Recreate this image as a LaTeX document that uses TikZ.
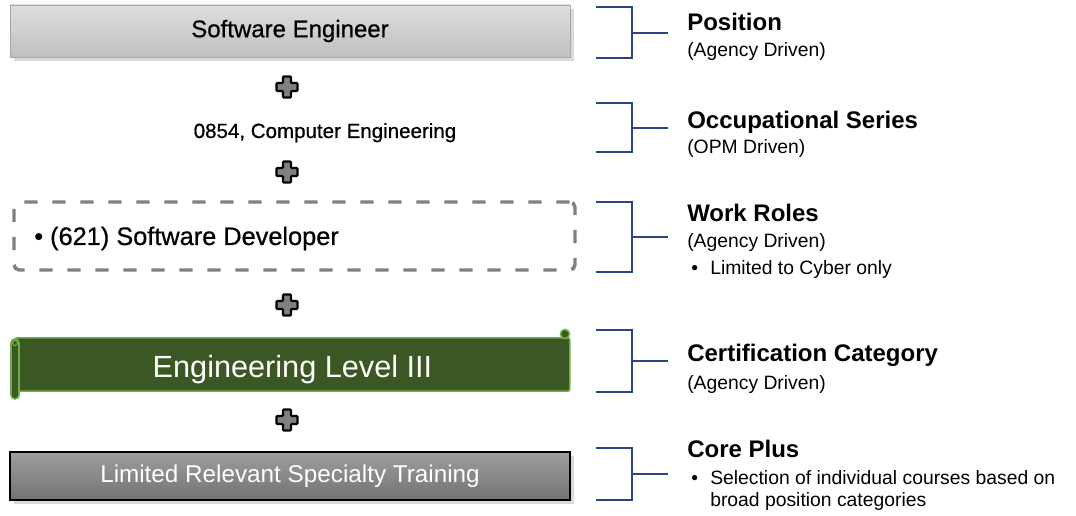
\documentclass[tikz,border=0pt]{standalone}
\usepackage{fontspec}
\setmainfont{Liberation Sans}
\newfontfamily\mediumfont[FakeBold=0.7]{Liberation Sans}
\usetikzlibrary{shadows}
\definecolor{navy}{HTML}{2B4584}
\definecolor{leafgreen}{HTML}{3A5724}
\definecolor{leafedge}{HTML}{70AD47}
\newcommand\addplus[2]{
  \draw[plus] (#1,#2) ++(-4,-10.5) -- ++(8,0) -- ++(0,6.5) -- ++(6.5,0) -- ++(0,8) -- ++(-6.5,0)
    -- ++(0,6.5) -- ++(-8,0) -- ++(0,-6.5) -- ++(-6.5,0) -- ++(0,-8) -- ++(6.5,0) -- cycle;
}
\newcommand\addbracket[3]{
  \draw[bracket] (596,#1) -- (632,#1) -- (632,#2) -- (596,#2);
  \draw[bracket, line width=1.3pt] (632,#3) -- (668,#3);
}

\begin{document}
\begin{tikzpicture}[x=0.75pt, y=-0.75pt,
	box/.style = {draw, minimum width=420pt, inner sep=0pt, font=\fontsize{18}{21}\selectfont},
	plus/.style = {draw=black, line width=1.6pt, fill=black!50, rounded corners=0.6pt},
	bracket/.style = {draw=navy, line width=1pt},
	head/.style = {anchor=base west, inner sep=0pt, font=\fontsize{18}{21}\selectfont\bfseries},
	sub/.style = {anchor=base west, inner sep=0pt, font=\fontsize{14.5}{17}\selectfont}]
	\useasboundingbox (0,0) rectangle (1076,516);
	% left column
	\node[box, minimum height=39pt, draw=black!35, top color=black!13, bottom color=black!25,
	  font=\fontsize{18}{21}\mediumfont,
	  drop shadow={shadow xshift=3pt, shadow yshift=-3pt, opacity=.3}] (P) at (290,31) {Software Engineer};
	\addplus{287}{87}
	\node[anchor=base, inner sep=0pt, font=\fontsize{15.4}{18}\mediumfont] (O) at (325,138) {0854, Computer Engineering};
	\addplus{287}{172}
	\node[box, minimum width=420.75pt, minimum height=51pt, draw=black!50, line width=2.6pt,
	  dash pattern=on 10pt off 11pt, rounded corners=4pt] (W) at (294.5,236) {};
	\node[anchor=base west, inner sep=0pt, font=\fontsize{19}{22}\mediumfont] (Wt) at (34,245) {• (621) Software Developer};
	\addplus{287}{305}
	\node[box, minimum width=416pt, minimum height=40pt, draw=leafedge, line width=1.2pt, fill=leafgreen,
	  rounded corners=1.5pt] (C) at (292.5,364.5) {};
	\draw[draw=leafedge, line width=1.2pt, fill=leafgreen] (565,334) circle[radius=4.5];
	\draw[draw=leafedge, line width=1.2pt, fill=leafgreen, rounded corners=3pt] (11,339) rectangle (19,399);
	\draw[draw=leafedge, line width=0.8pt] (15,343) circle[radius=2.5];
	\node[anchor=base, inner sep=0pt, text=white, font=\fontsize{23}{27}\selectfont] (Ct) at (292.5,378) {Engineering Level III};
	\addplus{287}{420}
	\node[box, minimum height=36pt, draw=black, line width=1pt, top color=black!38, bottom color=black!55,
	  text=white, font=\fontsize{18.2}{21}\selectfont,
	  drop shadow={shadow xshift=3pt, shadow yshift=-3pt, opacity=.3}] (T) at (290,476) {Limited Relevant Specialty Training};
	% brackets
	\addbracket{7}{58}{33}
	\addbracket{103}{152}{128}
	\addbracket{202}{272}{237}
	\addbracket{330}{392}{361}
	\addbracket{448}{500}{474}
	% right column
	\node[head] (Ph) at (687,31) {Position};
	\node[sub] (Ps) at (687,57) {(Agency Driven)};
	\node[head] (Oh) at (687,129) {Occupational Series};
	\node[sub] (Os) at (687,154) {(OPM Driven)};
	\node[head] (Wh) at (687,222) {Work Roles};
	\node[sub] (Ws) at (687,248) {(Agency Driven)};
	\node[sub] (Wb) at (687,275) {\makebox[17.25pt][l]{\hspace{3pt}•}Limited to Cyber only};
	\node[head] (Ch) at (687,362) {Certification Category};
	\node[sub] (Cs) at (687,390) {(Agency Driven)};
	\node[head] (Th) at (687,458) {Core Plus};
	\node[sub] (Tb) at (687,485) {\makebox[17.25pt][l]{\hspace{3pt}•}Selection of individual courses based on};
	\node[sub] (Tc) at (710,507) {broad position categories};
\end{tikzpicture}
\end{document}
